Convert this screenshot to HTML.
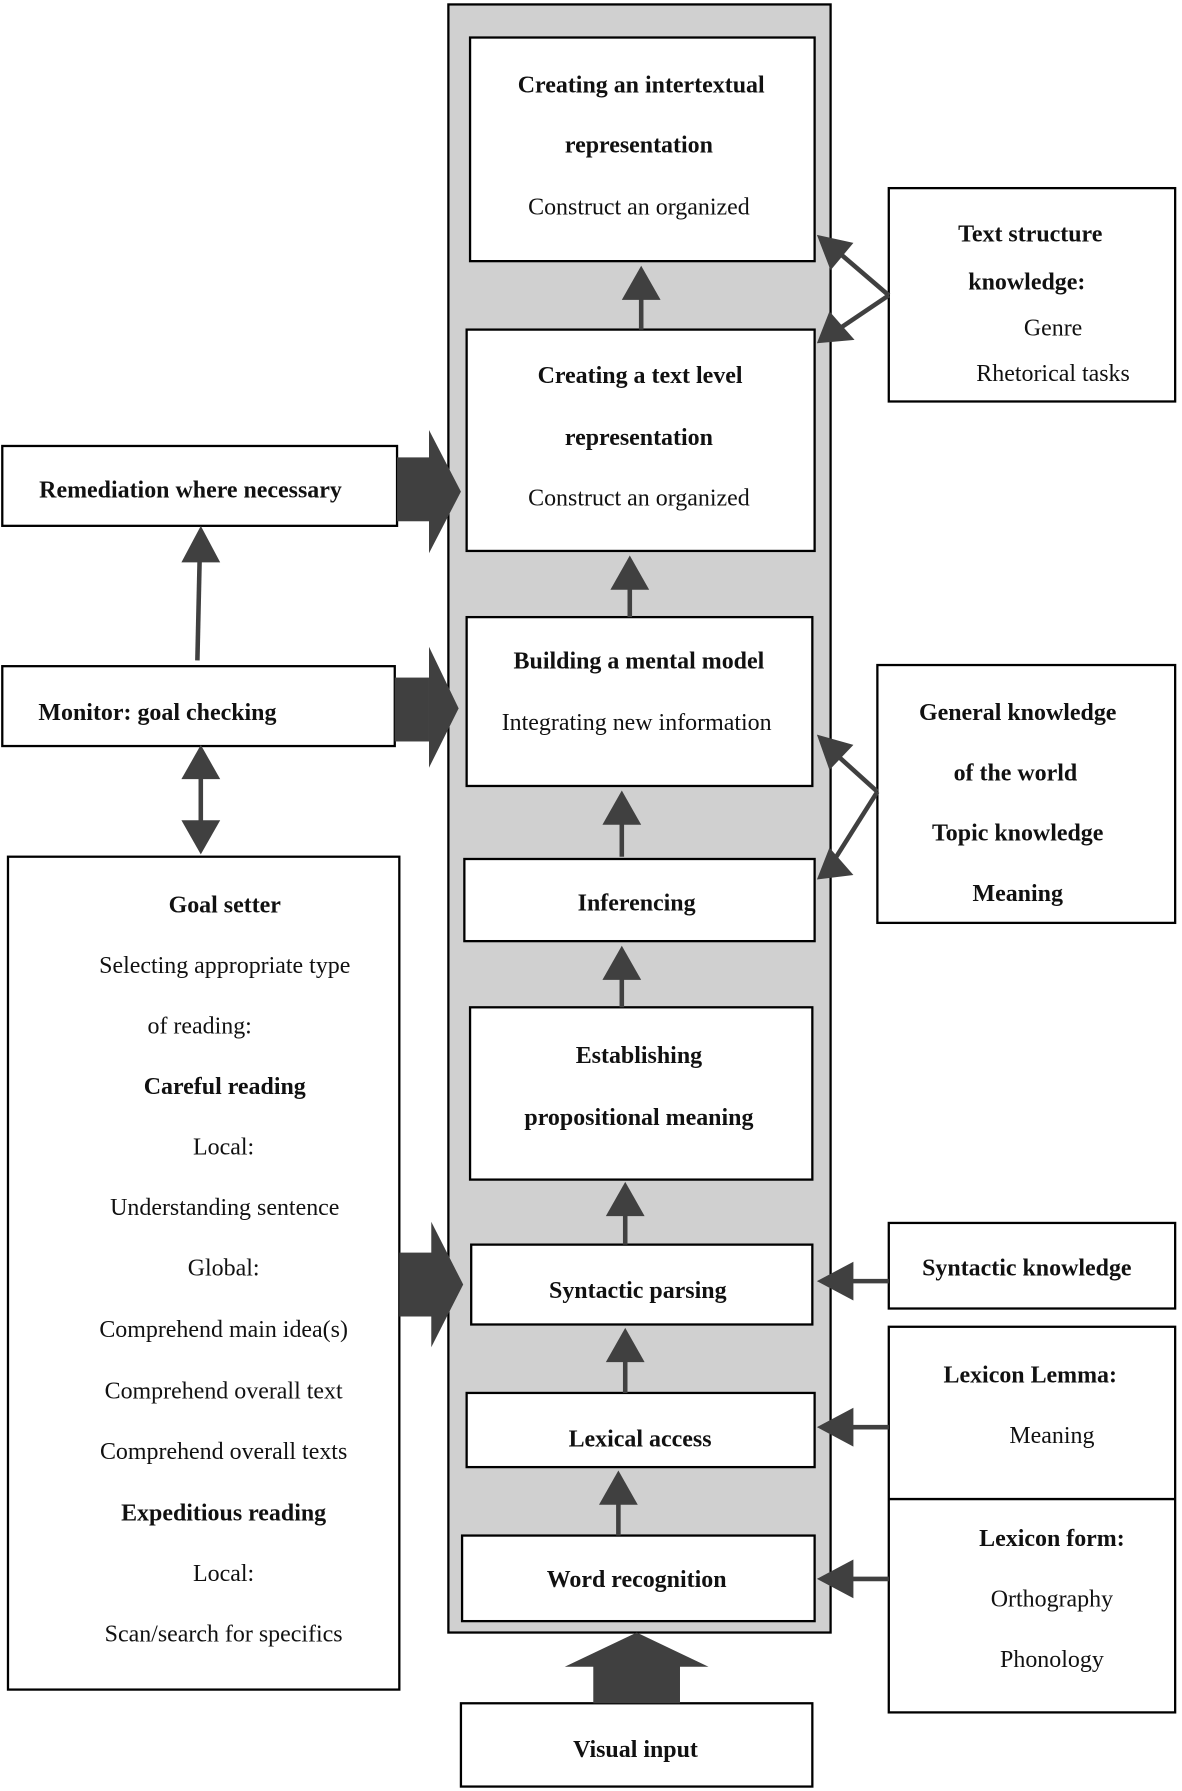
<!DOCTYPE html>
<html><head><meta charset="utf-8"><style>
html,body{margin:0;padding:0;background:#fff}
svg{display:block}
text{font-family:"Liberation Serif",serif;font-size:21px;fill:#111}
.b{font-weight:bold}
</style></head><body>
<svg width="1182" height="1791" viewBox="0 0 1036 1568" xmlns="http://www.w3.org/2000/svg">
<defs>
<marker id="ah" markerWidth="10" markerHeight="10" refX="9" refY="5" orient="auto" markerUnits="userSpaceOnUse" viewBox="0 0 10 10">
</marker>
</defs>
<g stroke="#000" stroke-width="2" fill="#fff">
<rect x="393" y="3" width="335" height="1427" fill="#d0d0d0"/>
<rect x="412" y="32" width="302" height="196"/>
<rect x="409" y="288" width="305" height="194"/>
<rect x="409" y="540" width="303" height="148"/>
<rect x="407" y="752" width="307" height="72"/>
<rect x="412" y="882" width="300" height="151"/>
<rect x="413" y="1090" width="299" height="70"/>
<rect x="409" y="1220" width="305" height="65"/>
<rect x="405" y="1345" width="309" height="75"/>
<rect x="404" y="1492" width="308" height="73"/>
<rect x="779" y="164" width="251" height="187"/>
<rect x="769" y="582" width="261" height="226"/>
<rect x="779" y="1071" width="251" height="75"/>
<rect x="779" y="1162" width="251" height="338"/>
<line x1="779" y1="1313" x2="1030" y2="1313"/>
<rect x="2" y="390" width="346" height="70"/>
<rect x="2" y="583" width="344" height="70"/>
<rect x="7" y="750" width="343" height="730"/>
</g>
<g stroke="#404040" stroke-width="4" fill="none">
<line x1="562" y1="288" x2="562" y2="250"/>
<line x1="552" y1="540" x2="552" y2="505"/>
<line x1="545" y1="750" x2="545" y2="712"/>
<line x1="545" y1="882" x2="545" y2="848"/>
<line x1="548" y1="1090" x2="548" y2="1055"/>
<line x1="548" y1="1220" x2="548" y2="1183"/>
<line x1="542" y1="1345" x2="542" y2="1308"/>
<line x1="779" y1="258" x2="730" y2="216"/>
<line x1="779" y1="258" x2="730" y2="291"/>
<line x1="769" y1="693" x2="728" y2="656"/>
<line x1="769" y1="693" x2="728" y2="758"/>
<line x1="779" y1="1122" x2="740" y2="1122"/>
<line x1="779" y1="1250" x2="740" y2="1250"/>
<line x1="779" y1="1383" x2="740" y2="1383"/>
<line x1="173" y1="578" x2="175" y2="488"/>
<line x1="176" y1="675" x2="176" y2="728"/>
</g>
<g fill="#404040">
<polygon points="545,262 579,262 562,232"/>
<polygon points="535,516 569,516 552,486"/>
<polygon points="528,722 562,722 545,692"/>
<polygon points="528,858 562,858 545,828"/>
<polygon points="531,1065 565,1065 548,1035"/>
<polygon points="531,1193 565,1193 548,1163"/>
<polygon points="525,1318 559,1318 542,1288"/>
<polygon points="716,205 748,212 728,236"/>
<polygon points="716,300 749,297 727,272"/>
<polygon points="716,643 748,652 727,674"/>
<polygon points="716,770 748,766 727,742"/>
<polygon points="716,1122 748,1105 748,1139"/>
<polygon points="716,1250 748,1233 748,1267"/>
<polygon points="716,1383 748,1366 748,1400"/>
<polygon points="159,492 193,492 176,460"/>
<polygon points="159,682 193,682 176,652"/>
<polygon points="159,718 193,718 176,748"/>
<rect x="520" y="1458" width="76" height="34"/>
<polygon points="495,1460 621,1460 558,1430"/>
<rect x="348" y="400" width="30" height="56"/>
<polygon points="376,376 376,484 404,430"/>
<rect x="346" y="593" width="30" height="56"/>
<polygon points="376,566 376,672 402,620"/>
<rect x="350" y="1097" width="30" height="56"/>
<polygon points="378,1070 378,1180 406,1125"/>
</g>
<g text-anchor="middle">
<text x="562" y="80" class="b">Creating an intertextual</text>
<text x="560" y="133" class="b">representation</text>
<text x="560" y="187">Construct an organized</text>
<text x="561" y="335" class="b">Creating a text level</text>
<text x="560" y="389" class="b">representation</text>
<text x="560" y="442">Construct an organized</text>
<text x="560" y="585" class="b">Building a mental model</text>
<text x="558" y="639">Integrating new information</text>
<text x="558" y="797" class="b">Inferencing</text>
<text x="560" y="931" class="b">Establishing</text>
<text x="560" y="985" class="b">propositional meaning</text>
<text x="559" y="1137" class="b">Syntactic parsing</text>
<text x="561" y="1267" class="b">Lexical access</text>
<text x="558" y="1390" class="b">Word recognition</text>
<text x="557" y="1539" class="b">Visual input</text>
<text x="903" y="211" class="b">Text structure</text>
<text x="900" y="253" class="b">knowledge:</text>
<text x="923" y="293">Genre</text>
<text x="923" y="333">Rhetorical tasks</text>
<text x="892" y="630" class="b">General knowledge</text>
<text x="890" y="683" class="b">of the world</text>
<text x="892" y="736" class="b">Topic knowledge</text>
<text x="892" y="789" class="b">Meaning</text>
<text x="900" y="1117" class="b">Syntactic knowledge</text>
<text x="903" y="1211" class="b">Lexicon Lemma:</text>
<text x="922" y="1264">Meaning</text>
<text x="922" y="1354" class="b">Lexicon form:</text>
<text x="922" y="1407">Orthography</text>
<text x="922" y="1460">Phonology</text>
<text x="167" y="435" class="b">Remediation where necessary</text>
<text x="138" y="630" class="b">Monitor: goal checking</text>
<text x="197" y="799" class="b">Goal setter</text>
<text x="197" y="852">Selecting appropriate type</text>
<text x="175" y="905">of reading:</text>
<text x="197" y="958" class="b">Careful reading</text>
<text x="196" y="1011">Local:</text>
<text x="197" y="1064">Understanding sentence</text>
<text x="196" y="1117">Global:</text>
<text x="196" y="1171">Comprehend main idea(s)</text>
<text x="196" y="1225">Comprehend overall text</text>
<text x="196" y="1278">Comprehend overall texts</text>
<text x="196" y="1332" class="b">Expeditious reading</text>
<text x="196" y="1385">Local:</text>
<text x="196" y="1438">Scan/search for specifics</text>
</g>
</svg>
</body></html>
